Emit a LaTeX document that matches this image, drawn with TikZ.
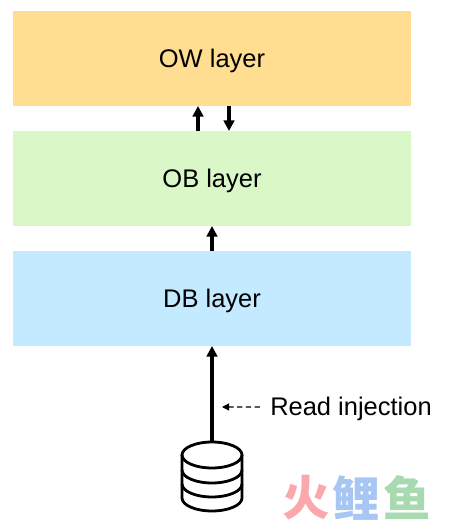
\documentclass[tikz,border=0pt]{standalone}
\usepackage{fontspec}
\setmainfont{Liberation Sans}
\newfontfamily\cjkfont{Noto Sans CJK SC}[BoldFont={* Black}]
\usetikzlibrary{arrows.meta,shapes.geometric}
\definecolor{lworange}{HTML}{FFDD91}
\definecolor{lwgreen}{HTML}{D9F7C7}
\definecolor{lwblue}{HTML}{C4EAFF}
\definecolor{markred}{HTML}{FBA8AD}
\definecolor{markblue}{HTML}{A8C6F4}
\definecolor{markgreen}{HTML}{A8DAB2}
\tikzset{
  layerbox/.style={rectangle, minimum width=7.96cm, minimum height=1.9cm, outer sep=0pt, text height=10.3pt, text depth=0pt, font=\fontsize{14.5}{17}\selectfont},
  flow/.style={-{Triangle[length=6pt,width=6pt]}, line width=1.8pt},
  drum/.style={line width=1.6pt},
  logomark/.style={font=\cjkfont\bfseries\fontsize{27}{27}\selectfont, inner sep=0pt}
}

\begin{document}
\begin{tikzpicture}
    \useasboundingbox (0,0) rectangle (9.06,10.42);
    \node[layerbox, fill=lworange] (ow) at (4.24,9.25) {OW layer};
    \node[layerbox, fill=lwgreen] (ob) at (4.24,6.85) {OB layer};
    \node[layerbox, fill=lwblue] (dbl) at (4.24,4.45) {DB layer};

    \node[draw, drum, ellipse, minimum width=1.2cm, minimum height=0.52cm, inner sep=0pt, outer sep=0pt] (store) at (4.24,1.32) {};
    \draw[drum] (store.west) -- ++(0,-0.86) arc (180:360:0.6cm and 0.26cm) -- (store.east);
    \draw[drum] ([yshift=-0.3cm]store.west) arc (180:360:0.6cm and 0.26cm);
    \draw[drum] ([yshift=-0.58cm]store.west) arc (180:360:0.6cm and 0.26cm);

    \node[font=\fontsize{14.5}{17}\selectfont, text height=10.3pt, text depth=0pt, inner sep=0pt] (read) at (7.02,2.30) {Read injection};
    \coordinate (tip) at (4.44,2.28);

    \draw[flow] ([xshift=-0.28cm]ob.north) -- ([xshift=-0.28cm]ow.south);
    \draw[flow] ([xshift=0.34cm]ow.south) -- ([xshift=0.34cm]ob.north);
    \draw[flow] (dbl.north) -- (ob.south);
    \draw[flow] (store.north) -- (dbl.south);
    \draw[-{Triangle[length=4pt,width=4pt]}, densely dashed, line width=0.6pt] ([xshift=-0.2cm,yshift=-0.02cm]read.west) -- (tip);

    \node[logomark, markred] (huo) at (6.13,0.46) {火};
    \node[logomark, markblue] (li) at (7.13,0.46) {鲤};
    \node[logomark, markgreen] (yu) at (8.15,0.46) {鱼};
  \end{tikzpicture}
\end{document}
